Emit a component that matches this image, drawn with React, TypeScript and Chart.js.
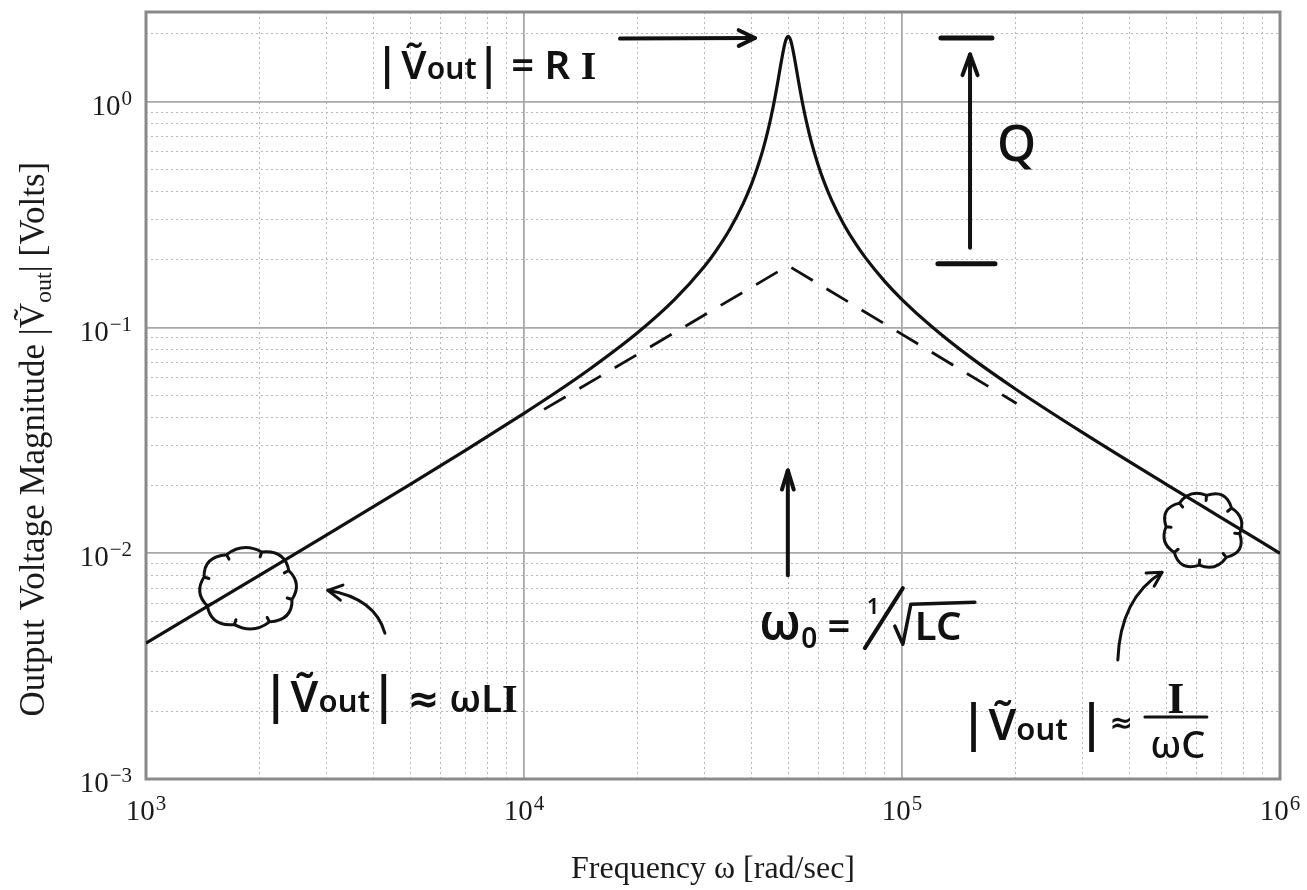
import React, { useEffect, useRef } from "react";
import { Chart, registerables } from "chart.js";

Chart.register(...registerables);

// ---- data ----
const freq = [1000, 2000, 3000, 5000, 7000, 10000, 12000, 15000, 20000, 25000, 30000, 32000, 35000, 38000, 40000, 41000, 42000, 43000, 44000, 45000, 46000, 47000, 48000, 49000, 49500, 50000, 50500, 51000, 52000, 53000, 54000, 55000, 56000, 57000, 58000, 60000, 62000, 65000, 70000, 75000, 80000, 90000, 100000, 120000, 150000, 200000, 300000, 500000, 700000, 1000000];
const vout = [0.004, 0.00801, 0.01204, 0.0202, 0.02856, 0.0417, 0.0509, 0.0659, 0.0951, 0.133, 0.1866, 0.2154, 0.2719, 0.3541, 0.4333, 0.4848, 0.5478, 0.6256, 0.7242, 0.852, 1.0205, 1.244, 1.526, 1.814, 1.913, 1.95, 1.914, 1.819, 1.549, 1.288, 1.081, 0.9225, 0.8023, 0.709, 0.6346, 0.5254, 0.4489, 0.3698, 0.2885, 0.2382, 0.204, 0.1602, 0.1331, 0.1008, 0.0749, 0.0533, 0.0343, 0.0202, 0.01436, 0.01];
const asymFreq = [11300, 50000, 201000];
const asymVout = [0.0434, 0.188, 0.0461];

const xDecades = [3, 4, 5, 6];
const yDecades = [-3, -2, -1, 0];
const minorMultipliers = [1, 2, 3, 4, 5, 6, 7, 8, 9];
const xMin = 1e3, xMax = 1e6, yMin = 1e-3, yMax = 2.5;

const xTitle = "Frequency \u03c9 [rad/sec]";
const yTitleParts = ["Output Voltage Magnitude |", "\u1E7C", "out", "| [Volts]"];

// annotation anchors in log10 data coordinates
const annRI = { lx: 3.606, ly: 0.1 };
const arrowRI = [[4.254, 0.28], [4.611, 0.283]];
const qTop = [[5.103, 0.283], [5.238, 0.283]];
const qBottom = [[5.095, -0.717], [5.246, -0.717]];
const qArrow = [[5.18, -0.646], [5.18, 0.21]];
const qText = { lx: 5.251, ly: -0.26 };
const w0Arrow = [[4.698, -2.097], [4.698, -1.633]];
const w0Text = { lx: 4.622, ly: -2.385 };
const leftCloud = { lx: 3.27, ly: -2.155 };
const leftArrow = [[3.632, -2.354], [3.606, -2.199], [3.481, -2.164]];
const leftText = { lx: 3.307, ly: -2.704 };
const rightCloud = { lx: 5.796, ly: -1.898 };
const rightArrow = [[5.571, -2.473], [5.577, -2.199], [5.688, -2.084]];
const rightText = { lx: 5.153, ly: -2.827 };

const buildTicks = (decades: number[], max: number) => {
  const out: number[] = [];
  decades.forEach((e) => {
    minorMultipliers.forEach((m) => {
      const v = parseFloat((m * Math.pow(10, e)).toPrecision(6));
      if (v <= max + 1e-12) out.push(v);
    });
  });
  return out;
};
const xTickValues = buildTicks(xDecades, xMax);
const yTickValues = buildTicks(yDecades, yMax);
const isDecade = (v: number) => Math.abs(Math.log10(v) - Math.round(Math.log10(v))) < 1e-6;

const SERIF = "'Liberation Serif', 'DejaVu Serif', serif";
const HAND = "'Noto Sans', 'DejaVu Sans', sans-serif";

type Piece = { t: string; font: string; dy?: number; dx?: number };
function drawPieces(ctx: CanvasRenderingContext2D, x: number, y: number, pieces: Piece[]) {
  let cx = x;
  for (const p of pieces) {
    ctx.font = p.font;
    cx += p.dx || 0;
    ctx.fillText(p.t, cx, y + (p.dy || 0));
    cx += ctx.measureText(p.t).width;
  }
  return cx;
}
function measurePieces(ctx: CanvasRenderingContext2D, pieces: Piece[]) {
  let w = 0;
  for (const p of pieces) {
    ctx.font = p.font;
    w += ctx.measureText(p.t).width + (p.dx || 0);
  }
  return w;
}
function chevron(ctx: CanvasRenderingContext2D, x: number, y: number, angle: number, len: number, spread: number) {
  ctx.beginPath();
  ctx.moveTo(x - len * Math.cos(angle - spread), y - len * Math.sin(angle - spread));
  ctx.lineTo(x, y);
  ctx.lineTo(x - len * Math.cos(angle + spread), y - len * Math.sin(angle + spread));
  ctx.stroke();
}
function cloud(ctx: CanvasRenderingContext2D, cx: number, cy: number, rx: number, ry: number, n: number, bump: number, rot: number) {
  ctx.beginPath();
  for (let i = 0; i < n; i++) {
    const a0 = rot + (i * 2 * Math.PI) / n;
    const a1 = rot + ((i + 1) * 2 * Math.PI) / n;
    const am = (a0 + a1) / 2;
    const b = bump * (i % 2 === 0 ? 1.2 : 0.85);
    const x0 = cx + rx * Math.cos(a0), y0 = cy + ry * Math.sin(a0);
    const x1 = cx + rx * Math.cos(a1), y1 = cy + ry * Math.sin(a1);
    if (i === 0) ctx.moveTo(x0, y0);
    ctx.quadraticCurveTo(cx + (rx + 2 * b) * Math.cos(am), cy + (ry + 2 * b) * Math.sin(am), x1, y1);
    ctx.moveTo(x1 - 5 * Math.cos(a1), y1 - 5 * Math.sin(a1));
    ctx.lineTo(x1, y1);
  }
  ctx.stroke();
}

const framePlugin = {
  id: "frame",
  beforeDatasetsDraw(chart: any) {
    const { ctx, chartArea: a } = chart;
    ctx.save();
    ctx.strokeStyle = "#8a8a8a";
    ctx.lineWidth = 3;
    ctx.strokeRect(a.left, a.top, a.right - a.left, a.bottom - a.top);
    ctx.restore();
  },
};

// decade tick labels 10^n with a real raised exponent
const tickLabelPlugin = {
  id: "decadeLabels",
  afterDraw(chart: any) {
    const { ctx, chartArea: a } = chart;
    const xs = chart.scales.x, ys = chart.scales.y;
    const base = `29px ${SERIF}`;
    const exp = `21px ${SERIF}`;
    const expText = (e: number) => (e < 0 ? "\u2212" + Math.abs(e) : String(e));
    ctx.save();
    ctx.fillStyle = "#1a1a1a";
    ctx.textBaseline = "alphabetic";
    xDecades.forEach((e) => {
      const px = xs.getPixelForValue(Math.pow(10, e));
      const pieces: Piece[] = [{ t: "10", font: base }, { t: expText(e), font: exp, dy: -10, dx: 1 }];
      const w = measurePieces(ctx, pieces);
      drawPieces(ctx, px - w / 2, a.bottom + 41, pieces);
    });
    yDecades.forEach((e) => {
      const py = ys.getPixelForValue(Math.pow(10, e));
      const pieces: Piece[] = [{ t: "10", font: base }, { t: expText(e), font: exp, dy: -10, dx: 1 }];
      const w = measurePieces(ctx, pieces);
      drawPieces(ctx, a.left - 14 - w, py + 13, pieces);
    });
    ctx.restore();
  },
};

const yTitlePlugin = {
  id: "yTitle",
  afterDraw(chart: any) {
    const { ctx, chartArea: a } = chart;
    const big = `35px ${SERIF}`;
    const small = `24px ${SERIF}`;
    const pieces: Piece[] = [
      { t: yTitleParts[0], font: big },
      { t: yTitleParts[1], font: big },
      { t: yTitleParts[2], font: small, dy: 7 },
      { t: yTitleParts[3], font: big },
    ];
    ctx.save();
    ctx.fillStyle = "#1a1a1a";
    ctx.textBaseline = "alphabetic";
    const w = measurePieces(ctx, pieces);
    const yc = a.top + (a.bottom - a.top) * 0.557;
    ctx.translate(44, yc);
    ctx.rotate(-Math.PI / 2);
    drawPieces(ctx, -w / 2, 0, pieces);
    ctx.restore();
  },
};

const annotationPlugin = {
  id: "handNotes",
  afterDatasetsDraw(chart: any) {
    const { ctx } = chart;
    const xs = chart.scales.x, ys = chart.scales.y;
    const P = (lx: number, ly: number) => [xs.getPixelForValue(Math.pow(10, lx)), ys.getPixelForValue(Math.pow(10, ly))];
    const f = (s: number, w = 600) => `${w} ${s}px ${HAND}`;
    const fi = (s: number) => `700 ${s}px ${SERIF}`;
    ctx.save();
    ctx.strokeStyle = "#111";
    ctx.fillStyle = "#111";
    ctx.lineCap = "round";
    ctx.lineJoin = "round";
    ctx.textBaseline = "alphabetic";

    // |V_out| = R I
    let [x, y] = P(annRI.lx, annRI.ly);
    drawPieces(ctx, x, y, [
      { t: "|", font: f(44) },
      { t: "\u1E7C", font: f(40), dx: 2 },
      { t: "out", font: f(30) },
      { t: "|", font: f(44) },
      { t: " = R ", font: f(40) },
      { t: "I", font: fi(40) },
    ]);
    ctx.lineWidth = 4;
    let [ax0, ay0] = P(arrowRI[0][0], arrowRI[0][1]);
    let [ax1, ay1] = P(arrowRI[1][0], arrowRI[1][1]);
    ctx.beginPath(); ctx.moveTo(ax0, ay0); ctx.lineTo(ax1, ay1); ctx.stroke();
    chevron(ctx, ax1, ay1, Math.atan2(ay1 - ay0, ax1 - ax0), 18, 0.45);

    // Q bracket
    ctx.lineWidth = 5;
    for (const bar of [qTop, qBottom]) {
      const [b0x, b0y] = P(bar[0][0], bar[0][1]);
      const [b1x, b1y] = P(bar[1][0], bar[1][1]);
      ctx.beginPath(); ctx.moveTo(b0x, b0y); ctx.lineTo(b1x, b1y); ctx.stroke();
    }
    ctx.lineWidth = 4;
    [ax0, ay0] = P(qArrow[0][0], qArrow[0][1]);
    [ax1, ay1] = P(qArrow[1][0], qArrow[1][1]);
    ctx.beginPath(); ctx.moveTo(ax0, ay0); ctx.lineTo(ax1, ay1); ctx.stroke();
    chevron(ctx, ax1, ay1, Math.atan2(ay1 - ay0, ax1 - ax0), 22, 0.35);
    [x, y] = P(qText.lx, qText.ly);
    drawPieces(ctx, x, y, [{ t: "Q", font: f(50, 500) }]);

    // omega_0 arrow and label
    [ax0, ay0] = P(w0Arrow[0][0], w0Arrow[0][1]);
    [ax1, ay1] = P(w0Arrow[1][0], w0Arrow[1][1]);
    ctx.lineWidth = 4;
    ctx.beginPath(); ctx.moveTo(ax0, ay0); ctx.lineTo(ax1, ay1); ctx.stroke();
    chevron(ctx, ax1, ay1, Math.atan2(ay1 - ay0, ax1 - ax0), 20, 0.3);
    [x, y] = P(w0Text.lx, w0Text.ly);
    let cx = drawPieces(ctx, x, y, [
      { t: "\u03c9", font: f(50) },
      { t: "0", font: f(28), dy: 8 },
      { t: " = ", font: f(40) },
    ]);
    drawPieces(ctx, cx + 6, y - 26, [{ t: "1", font: f(22) }]);
    ctx.lineWidth = 4;
    ctx.beginPath(); ctx.moveTo(cx + 4, y + 8); ctx.lineTo(cx + 42, y - 52); ctx.stroke();
    ctx.lineWidth = 3.5;
    ctx.beginPath();
    ctx.moveTo(cx + 34, y - 14);
    ctx.lineTo(cx + 42, y + 4);
    ctx.lineTo(cx + 50, y - 36);
    ctx.lineTo(cx + 114, y - 38);
    ctx.stroke();
    drawPieces(ctx, cx + 54, y, [{ t: "LC", font: f(40) }]);

    // left cloud, arrow, text
    ctx.lineWidth = 3;
    const [lcx, lcy] = P(leftCloud.lx, leftCloud.ly);
    cloud(ctx, lcx, lcy, 46, 38, 8, 5, 0.3);
    const [l0x, l0y] = P(leftArrow[0][0], leftArrow[0][1]);
    const [lcxp, lcyp] = P(leftArrow[1][0], leftArrow[1][1]);
    const [l1x, l1y] = P(leftArrow[2][0], leftArrow[2][1]);
    ctx.beginPath(); ctx.moveTo(l0x, l0y); ctx.quadraticCurveTo(lcxp, lcyp, l1x, l1y); ctx.stroke();
    chevron(ctx, l1x, l1y, Math.atan2(l1y - lcyp, l1x - lcxp), 16, 0.5);
    [x, y] = P(leftText.lx, leftText.ly);
    drawPieces(ctx, x, y, [
      { t: "|", font: f(50) },
      { t: "\u1E7C", font: f(44), dx: 1 },
      { t: "out", font: f(31) },
      { t: "|", font: f(50) },
      { t: " \u2248 \u03c9L", font: f(38) },
      { t: "I", font: fi(40) },
    ]);

    // right cloud, arrow, text
    const [rcx, rcy] = P(rightCloud.lx, rightCloud.ly);
    ctx.lineWidth = 3;
    cloud(ctx, rcx, rcy, 37, 35, 8, 5, 0.1);
    const [r0x, r0y] = P(rightArrow[0][0], rightArrow[0][1]);
    const [rcxp, rcyp] = P(rightArrow[1][0], rightArrow[1][1]);
    const [r1x, r1y] = P(rightArrow[2][0], rightArrow[2][1]);
    ctx.beginPath(); ctx.moveTo(r0x, r0y); ctx.quadraticCurveTo(rcxp, rcyp, r1x, r1y); ctx.stroke();
    chevron(ctx, r1x, r1y, Math.atan2(r1y - rcyp, r1x - rcxp), 16, 0.5);
    [x, y] = P(rightText.lx, rightText.ly);
    cx = drawPieces(ctx, x, y, [
      { t: "|", font: f(50) },
      { t: "\u1E7C", font: f(44), dx: 1 },
      { t: "out", font: f(31) },
      { t: "|", font: f(50), dx: 10 },
      { t: "\u2248", font: f(28), dy: -8, dx: 4 },
    ]);
    const fx = cx + 12;
    ctx.lineWidth = 3;
    ctx.beginPath(); ctx.moveTo(fx, y - 23); ctx.lineTo(fx + 62, y - 23); ctx.stroke();
    ctx.textAlign = "center";
    drawPieces(ctx, fx + 31, y - 27, [{ t: "I", font: fi(44) }]);
    drawPieces(ctx, fx + 33, y + 18, [{ t: "\u03c9C", font: f(38, 500) }]);
    ctx.textAlign = "left";
    ctx.restore();
  },
};

export default function App() {
  const ref = useRef<HTMLCanvasElement | null>(null);
  useEffect(() => {
    document.body.style.margin = "0";
    document.body.style.overflow = "hidden";
    const canvas = ref.current!;
    const solid = freq.map((f, i) => ({ x: f, y: vout[i] }));
    const dashed = asymFreq.map((f, i) => ({ x: f, y: asymVout[i] }));
    const gridColor = (c: any) => (c.tick && isDecade(c.tick.value) ? "#a9a9a9" : "#b8b8b8");
    const gridWidth = (c: any) => (c.tick && isDecade(c.tick.value) ? 1.8 : 1);
    const gridDash = (c: any) => (c.tick && !isDecade(c.tick.value) ? [2, 3] : []);
    const chart = new Chart(canvas, {
      type: "line",
      data: {
        datasets: [
          {
            label: "|Vout|",
            data: solid,
            borderColor: "#111",
            borderWidth: 3.2,
            pointRadius: 0,
            cubicInterpolationMode: "monotone",
            fill: false,
          },
          {
            label: "asymptotes",
            data: dashed,
            borderColor: "#111",
            borderWidth: 2.8,
            borderDash: [25, 16],
            pointRadius: 0,
            tension: 0,
            fill: false,
          },
        ],
      },
      options: {
        responsive: false,
        animation: false,
        events: [],
        layout: { padding: { top: 12, right: 27, left: 0, bottom: 0 } },
        plugins: { legend: { display: false }, tooltip: { enabled: false }, title: { display: false } },
        scales: {
          x: {
            type: "logarithmic",
            min: xMin,
            max: xMax,
            afterBuildTicks: (s: any) => { s.ticks = xTickValues.map((v) => ({ value: v })); },
            afterFit: (s: any) => { s.height = 111; s.paddingLeft = 0; s.paddingRight = 0; },
            ticks: { display: false, autoSkip: false, maxRotation: 0 },
            grid: { color: gridColor, lineWidth: gridWidth, drawTicks: false },
            border: { display: false, dash: gridDash },
            title: {
              display: true,
              text: xTitle,
              color: "#1a1a1a",
              font: { family: SERIF, size: 32, lineHeight: 1 },
              padding: { top: 0, bottom: 4 },
            },
          },
          y: {
            type: "logarithmic",
            min: yMin,
            max: yMax,
            afterBuildTicks: (s: any) => { s.ticks = yTickValues.map((v) => ({ value: v })); },
            afterFit: (s: any) => { s.width = 146; s.paddingTop = 0; s.paddingBottom = 0; },
            ticks: { display: false, autoSkip: false },
            grid: { color: gridColor, lineWidth: gridWidth, drawTicks: false },
            border: { display: false, dash: gridDash },
            title: { display: false },
          },
        },
      },
      plugins: [framePlugin, annotationPlugin, tickLabelPlugin, yTitlePlugin],
    } as any);
    return () => chart.destroy();
  }, []);
  return (
    <div style={{ width: 1307, height: 890, background: "#fff" }}>
      <canvas ref={ref} width={1307} height={890} style={{ display: "block" }} />
    </div>
  );
}
